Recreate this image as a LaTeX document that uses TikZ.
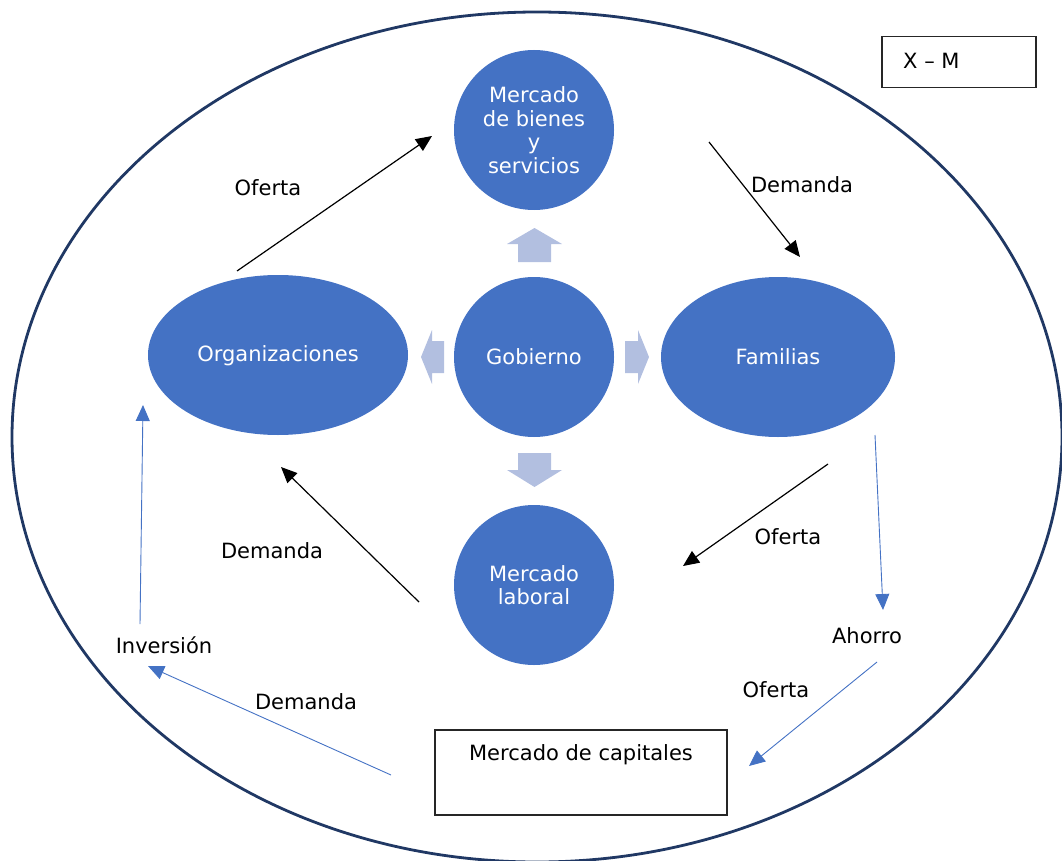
\documentclass[tikz,border=0pt]{standalone}
\usepackage{fontspec}
\setmainfont{DejaVu Sans}
\definecolor{officeblue}{RGB}{68,114,196}
\definecolor{officenavy}{RGB}{32,56,100}
\definecolor{govarrow}{RGB}{178,191,224}
\usetikzlibrary{arrows.meta}
\usetikzlibrary{positioning}
\usetikzlibrary{shapes.geometric}
\tikzset{
  market/.style={circle, fill=officeblue, text=white, minimum size=160pt, inner sep=0pt, align=center},
  agent/.style={ellipse, fill=officeblue, text=white, inner sep=0pt},
  flow/.style={-{Triangle[length=16pt,width=14pt]}, line width=1.2pt},
  bflow/.style={flow, officeblue, line width=0.9pt},
  lbl/.style={inner sep=0pt},
  frame/.style={draw=black!85, line width=1.2pt}
}

\begin{document}
\begin{tikzpicture}[x=1pt, y=-1pt, font=\fontsize{21}{23.5}\selectfont]

  \useasboundingbox (0,0) rectangle (1062,861);

  % economy
  \draw [officenavy, line width=2.8pt] (537,437) ellipse [x radius=525pt, y radius=425pt];

  \node [frame, minimum width=154pt, minimum height=51pt] (xm) at (959,62) {};
  \node [lbl, anchor=west] (xmlabel) at (903,61) {X -- M};

  % markets and agents
  \node [market] (bienes) at (534,130) {Mercado\\de bienes\\y\\servicios};
  \node [market] (gobierno) at (534,357) {Gobierno};
  \node [market] (laboral) at (534,585) {Mercado\\laboral};
  \node [agent, minimum width=260pt, minimum height=160pt] (org) at (278,355) {};
  \node [lbl, text=white] (orglabel) at (278,356) {Organizaciones};
  \node [agent, minimum width=234pt, minimum height=160pt] (familias) at (778,357) {Familias};

  \node [frame, minimum width=292pt, minimum height=85pt] (capitales) at (581,772.5) {};
  \node [lbl] (capitaleslabel) at (581,755) {Mercado de capitales};

  % government arrows
  \fill [govarrow] (518,262) -- (518,244) -- (507,244) -- (534.5,228) -- (562,244) -- (551,244) -- (551,262) -- cycle;
  \fill [govarrow] (518,453) -- (551,453) -- (551,470) -- (562,470) -- (534.5,487) -- (507,470) -- (518,470) -- cycle;
  \fill [govarrow] (444,341) -- (432,341) -- (432,330) -- (421,357) -- (432,384) -- (432,373) -- (444,373) -- cycle;
  \fill [govarrow] (625,341) -- (638,341) -- (638,330) -- (649,357) -- (638,384) -- (638,373) -- (625,373) -- cycle;

  % labels
  \node [lbl] (ofertaA) at (268,188) {Oferta};
  \node [lbl] (demandaA) at (802,185) {Demanda};
  \node [lbl] (ofertaB) at (788,537) {Oferta};
  \node [lbl] (demandaB) at (272,551) {Demanda};
  \node [lbl] (ahorro) at (867,636) {Ahorro};
  \node [lbl] (ofertaC) at (776,690) {Oferta};
  \node [lbl] (demandaC) at (306,702) {Demanda};
  \node [lbl] (inversion) at (164,645) {Inversión};

  % flow ends
  \coordinate (a1) at (237,271);  \coordinate (a2) at (432,136);
  \coordinate (b1) at (709,142);  \coordinate (b2) at (800,257);
  \coordinate (c1) at (828,464);  \coordinate (c2) at (683,566);
  \coordinate (d1) at (419,602);  \coordinate (d2) at (281,467);
  \coordinate (e1) at (875,435);  \coordinate (e2) at (883,610);
  \coordinate (f1) at (877,662);  \coordinate (f2) at (749,766);
  \coordinate (g1) at (391,775);  \coordinate (g2) at (148,666);
  \coordinate (h1) at (140,624);  \coordinate (h2) at (143,405);

  \draw [flow] (a1) -- (a2);
  \draw [flow] (b1) -- (b2);
  \draw [flow] (c1) -- (c2);
  \draw [flow] (d1) -- (d2);

  \draw [bflow] (e1) -- (e2);
  \draw [bflow] (f1) -- (f2);
  \draw [bflow] (g1) -- (g2);
  \draw [bflow] (h1) -- (h2);

\end{tikzpicture}
\end{document}
